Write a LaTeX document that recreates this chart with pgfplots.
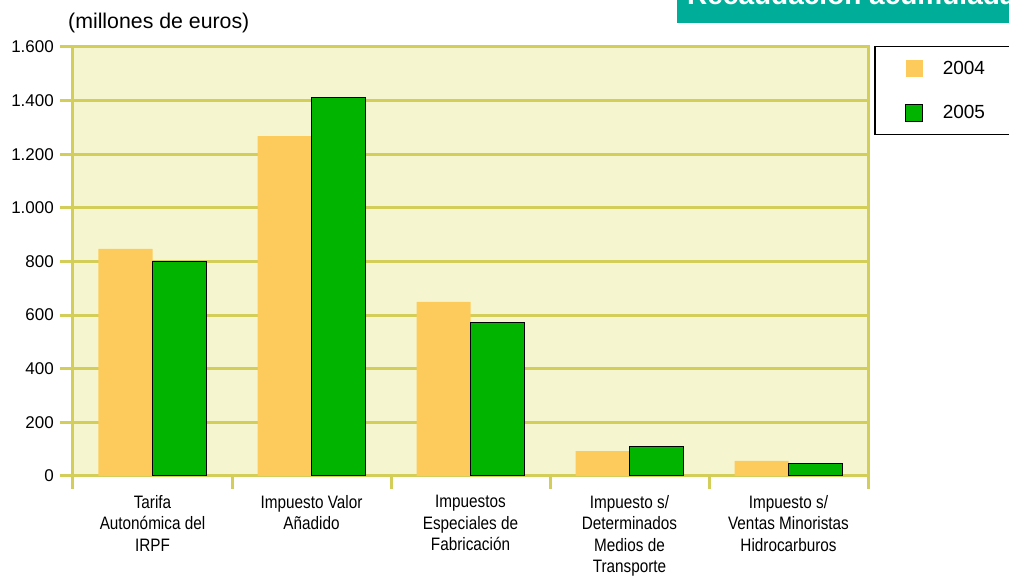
\documentclass[border=0pt]{standalone}
\usepackage{fontspec}
\setmainfont{Liberation Sans}
\newfontfamily\narrowfont[FakeStretch=0.85]{Liberation Sans}
\usepackage{pgfplots}
\pgfplotsset{compat=1.18}
\definecolor{bgcol}{RGB}{245,246,208}
\definecolor{gridcol}{RGB}{211,206,90}
\definecolor{orng}{RGB}{253,203,91}
\definecolor{grn}{RGB}{0,180,0}
\definecolor{tealbox}{RGB}{0,173,153}
\begin{document}
\begin{tikzpicture}[x=1pt,y=1pt]
\useasboundingbox (0,0) rectangle (1009,577);
\fill[tealbox] (677,554.3) rectangle (1015,580);
\node[anchor=base west, inner sep=0pt, text=white, font=\bfseries\fontsize{28}{28}\selectfont] at (687,572) {Recaudación acumulada};
\node[anchor=base west, inner sep=0pt, font=\fontsize{21.3}{21.3}\selectfont] at (68,548) {(millones de euros)};
\begin{axis}[
  at={(73pt,101pt)}, anchor=south west,
  width=795pt, height=429pt, scale only axis,
  xmin=-0.5, xmax=4.5, ymin=0, ymax=1600,
  ybar=0pt, bar width=54pt,
  axis background/.style={fill=bgcol},
  axis line style={gridcol, line width=3pt},
  ymajorgrids, grid style={gridcol, line width=3pt},
  tick align=outside, major tick length=13pt, tick pos=left,
  tick style={gridcol, line width=3pt},
  ytick={0,200,...,1600},
  xtick={-0.5,0.5,...,4.5},
  x tick label as interval,
  xticklabels={{Tarifa\\Autonómica del\\IRPF},{Impuesto Valor\\Añadido},{Impuestos\\Especiales de\\Fabricación},{Impuesto s/\\Determinados\\Medios de\\Transporte},{Impuesto s/\\Ventas Minoristas\\Hidrocarburos}},
  x tick label style={font=\narrowfont\fontsize{18}{21.5}\selectfont, align=center, anchor=north, inner sep=0pt, yshift=-6pt},
  y tick label style={font=\fontsize{17}{17}\selectfont, inner sep=0pt, xshift=-6pt},
  /pgf/number format/.cd, 1000 sep={.}, assume math mode=true,
  /pgfplots/.cd,
  legend style={at={(rel axis cs:1,1)}, anchor=north west, xshift=6pt, yshift=1pt,
    draw=black, line width=1.5pt, fill=white, inner xsep=0pt, inner ysep=0pt,
    font=\fontsize{19}{19}\selectfont},
  legend cell align=left,
  legend image code/.code={\path[draw=none, fill=none] (0pt,-22pt) rectangle (66pt,22pt); \path[#1, line width=1pt] (31pt,-8.5pt) rectangle (48pt,8.5pt);},
]
\addplot[fill=orng, draw=none, bar shift=-27pt] coordinates {(0,847) (1,1268) (2,649) (3,93) (4,56)};
\addlegendentry{\makebox[100pt][l]{2004}}
\addplot[fill=grn, draw=black, line width=1pt, bar shift=27pt] coordinates {(0,800) (1,1410) (2,571) (3,111) (4,47)};
\addlegendentry{\makebox[100pt][l]{2005}}
\end{axis}
\end{tikzpicture}
\end{document}
